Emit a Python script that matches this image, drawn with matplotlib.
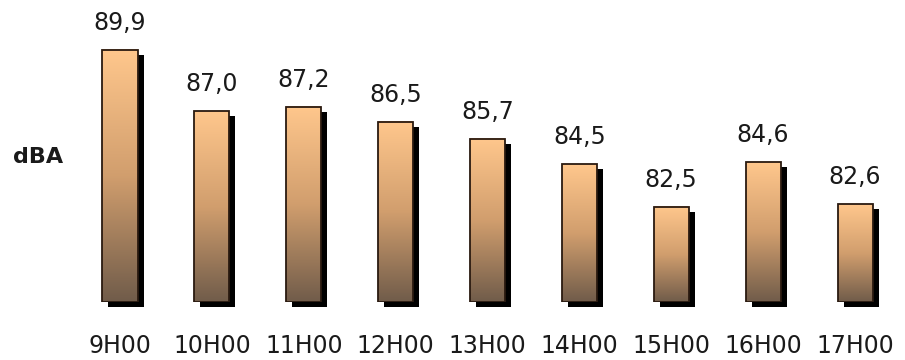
import numpy as np
import matplotlib.pyplot as plt
from matplotlib.colors import LinearSegmentedColormap

hours = ["9H00", "10H00", "11H00", "12H00", "13H00", "14H00", "15H00", "16H00", "17H00"]
dba = [89.9, 87.0, 87.2, 86.5, 85.7, 84.5, 82.5, 84.6, 82.6]
base = 78.0

# pixel scale of the original: ~91.9 px per bar step, ~21.2 px per dBA
px_x = 91.875
px_y = 21.2
W, H = 905, 360

fig = plt.figure(figsize=(W / 100, H / 100), dpi=100)
bottom_px = 302
ax = fig.add_axes([0, (H - bottom_px) / H, 1, bottom_px / H])

cmap = LinearSegmentedColormap.from_list(
    "peach", [(0.44, 0.36, 0.29), (0.82, 0.62, 0.43), (1.0, 0.78, 0.55)])
grad = np.linspace(0, 1, 256).reshape(-1, 1)

bw = 35 / px_x
dx = 6 / px_x
dy = 5 / px_y
x = np.arange(len(hours))

# shadows
ax.bar(x + dx, np.array(dba) - base, width=bw, bottom=base - dy,
       color="black", clip_on=False, zorder=1)

for xi, v in zip(x, dba):
    ax.imshow(grad, cmap=cmap, origin="lower", aspect="auto",
              extent=[xi - bw / 2, xi + bw / 2, base, v], zorder=2)
    ax.annotate(f"{v:.1f}".replace(".", ","), (xi, v), xytext=(0, 20),
                textcoords="offset pixels", ha="center", va="baseline",
                fontsize=17, color="#1a1a1a")

ax.bar(x, np.array(dba) - base, width=bw, bottom=base, facecolor="none",
       edgecolor="#2a1a10", linewidth=1.3, zorder=3)

ax.set_xlim(-120 / px_x, (W - 120) / px_x)
ax.set_ylim(base, base + bottom_px / px_y)
ax.set_xticks(x)
ax.set_xticklabels(hours, fontsize=17, color="#1a1a1a")
ax.tick_params(axis="x", length=0, pad=23)
ax.set_yticks([])
for s in ax.spines.values():
    s.set_visible(False)

fig.text(13 / W, 1 - 157 / H, "dBA", fontsize=16, fontweight="bold",
         ha="left", va="center", color="#1a1a1a")

fig.savefig("out.png", dpi=100)
